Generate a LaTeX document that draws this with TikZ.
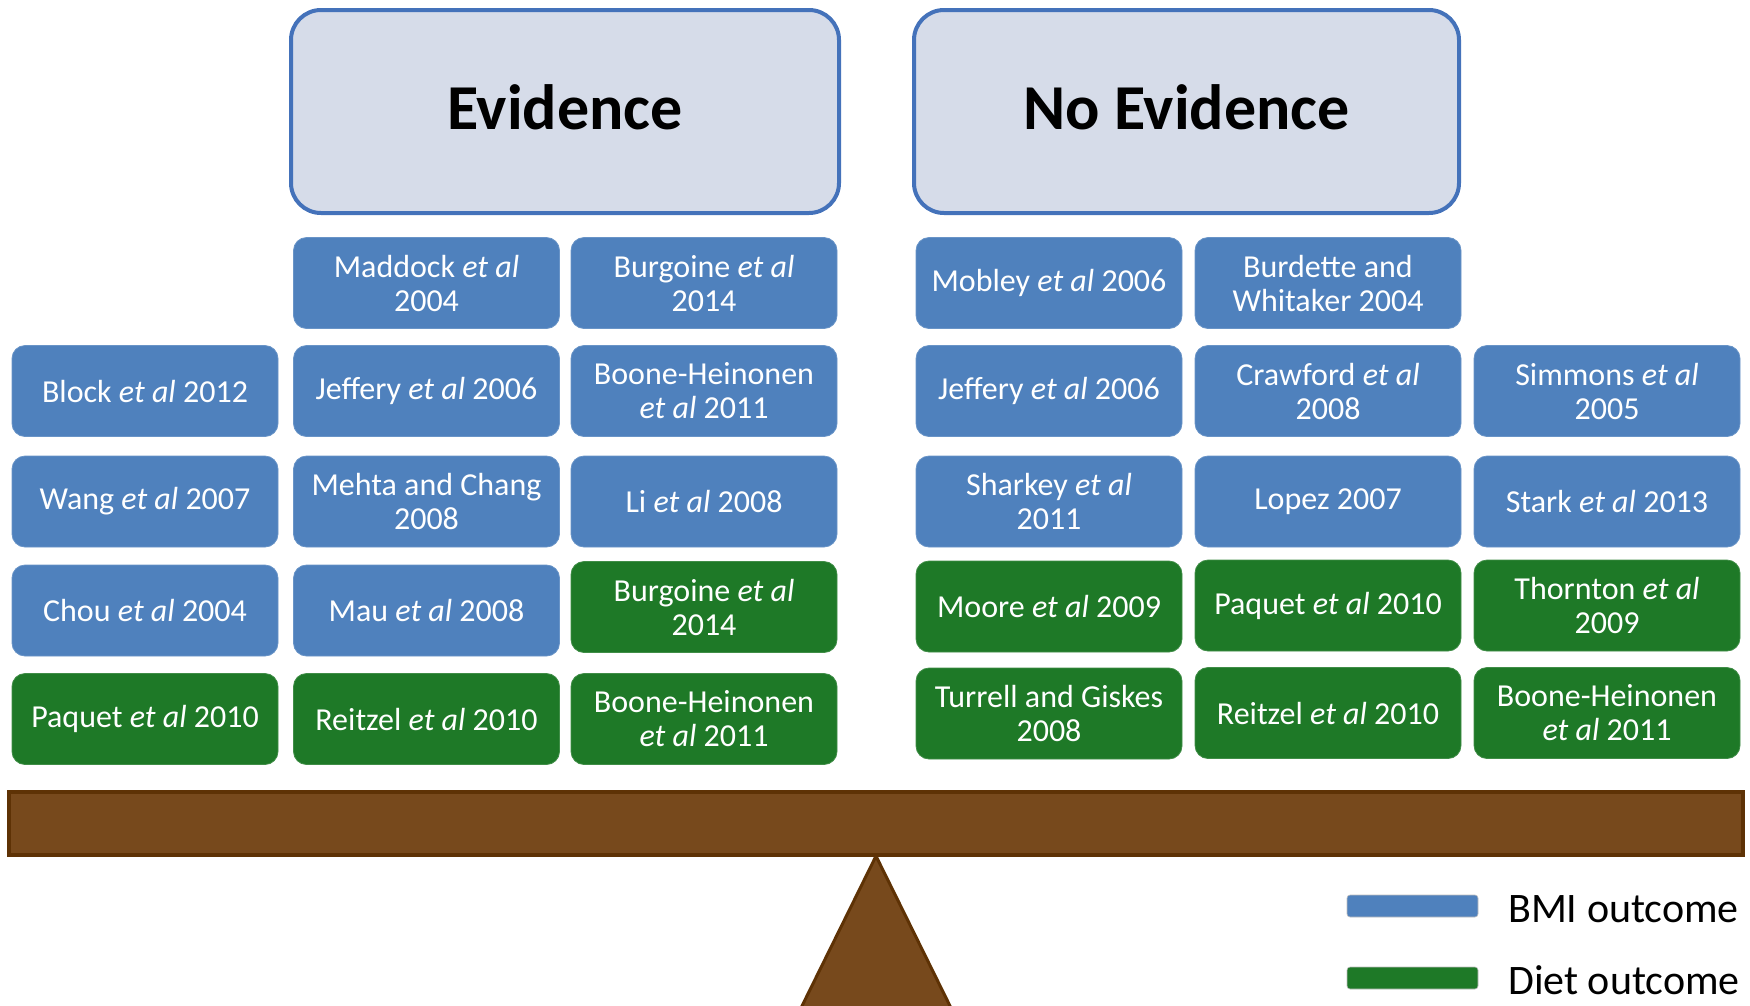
\documentclass[tikz,border=0pt]{standalone}
\usepackage{fontspec}
\setmainfont{Carlito}
\definecolor{bmiblue}{RGB}{79,129,189}
\definecolor{dietgreen}{RGB}{30,121,39}
\definecolor{headfill}{RGB}{214,220,233}
\definecolor{headline}{RGB}{68,114,186}
\definecolor{woodfill}{RGB}{119,73,28}
\definecolor{woodline}{RGB}{94,50,5}
\newcommand{\etal}{\textit{et al}}
\begin{document}
\begin{tikzpicture}[x=1pt,y=-1pt,
  study/.style={rectangle, rounded corners=13pt, minimum width=266pt, minimum height=91pt,
    inner sep=0pt, align=center, text=white, font=\fontsize{32}{34}\selectfont},
  bmi/.style={study, fill=bmiblue, draw=bmiblue!85!white, line width=0.8pt},
  diet/.style={study, fill=dietgreen, draw=dietgreen!85!white, line width=0.8pt},
  head/.style={rectangle, rounded corners=30pt, minimum height=203pt,
    fill=headfill, draw=headline, line width=4pt},
  headtext/.style={inner sep=0pt, font=\fontsize{64}{70}\selectfont\bfseries},
  swatch/.style={rectangle, rounded corners=3pt, minimum width=131pt, minimum height=22pt,
    inner sep=0pt, draw=white!75!black, line width=0.6pt},
  legtext/.style={anchor=west, inner sep=0pt, font=\fontsize{42}{46}\selectfont}]
\useasboundingbox (0,0) rectangle (1750,1005);

% column headings
\node[head, minimum width=548pt] (evid) at (565,111.5) {};
\node[headtext] (evidt) at ([yshift=4pt]evid.center) {Evidence};
\node[head, minimum width=545pt] (noev) at (1186.5,111.5) {};
\node[headtext] (noevt) at ([yshift=4pt]noev.center) {No Evidence};

% studies reporting an association
\node[bmi] (l12) at (426.5,283) {Maddock \etal\\2004};
\node[bmi] (l13) at (704,283) {Burgoine \etal\\2014};
\node[bmi] (l21) at (145,391) {Block \etal{} 2012};
\node[bmi] (l22) at (426.5,391) {Jeffery \etal{} 2006};
\node[bmi] (l23) at (704,391) {Boone-Heinonen\\\etal{} 2011};
\node[bmi] (l31) at (145,501.5) {Wang \etal{} 2007};
\node[bmi] (l32) at (426.5,501.5) {Mehta and Chang\\2008};
\node[bmi] (l33) at (704,501.5) {Li \etal{} 2008};
\node[bmi] (l41) at (145,610.5) {Chou \etal{} 2004};
\node[bmi] (l42) at (426.5,610.5) {Mau \etal{} 2008};
\node[diet] (l43) at (704,607) {Burgoine \etal\\2014};
\node[diet] (l51) at (145,719) {Paquet \etal{} 2010};
\node[diet] (l52) at (426.5,719) {Reitzel \etal{} 2010};
\node[diet] (l53) at (704,719) {Boone-Heinonen\\\etal{} 2011};

% studies reporting no association
\node[bmi] (r11) at (1049,283) {Mobley \etal{} 2006};
\node[bmi] (r12) at (1328,283) {Burdette and\\Whitaker 2004};
\node[bmi] (r21) at (1049,391) {Jeffery \etal{} 2006};
\node[bmi] (r22) at (1328,391) {Crawford \etal\\2008};
\node[bmi] (r23) at (1607,391) {Simmons \etal\\2005};
\node[bmi] (r31) at (1049,501.5) {Sharkey \etal\\2011};
\node[bmi] (r32) at (1328,501.5) {Lopez 2007};
\node[bmi] (r33) at (1607,501.5) {Stark \etal{} 2013};
\node[diet] (r41) at (1049,606.5) {Moore \etal{} 2009};
\node[diet] (r42) at (1328,605.5) {Paquet \etal{} 2010};
\node[diet] (r43) at (1607,605.5) {Thornton \etal\\2009};
\node[diet] (r51) at (1049,713.5) {Turrell and Giskes\\2008};
\node[diet] (r52) at (1328,713) {Reitzel \etal{} 2010};
\node[diet] (r53) at (1607,713) {Boone-Heinonen\\\etal{} 2011};

% balance: fulcrum and beam
\draw[fill=woodfill, draw=woodline, line width=3pt, line join=round]
  (876,856) -- (799,1012) -- (953,1012) -- cycle;
\draw[fill=woodfill, draw=woodline, line width=3.5pt] (9,792) rectangle (1743,855);

% legend
\node[swatch, fill=bmiblue] (kb) at (1412.5,906) {};
\node[swatch, fill=dietgreen] (kd) at (1412.5,978) {};
\node[legtext] (kbt) at (1508,909) {BMI outcome};
\node[legtext] (kdt) at (1508,980) {Diet outcome};
\end{tikzpicture}
\end{document}
